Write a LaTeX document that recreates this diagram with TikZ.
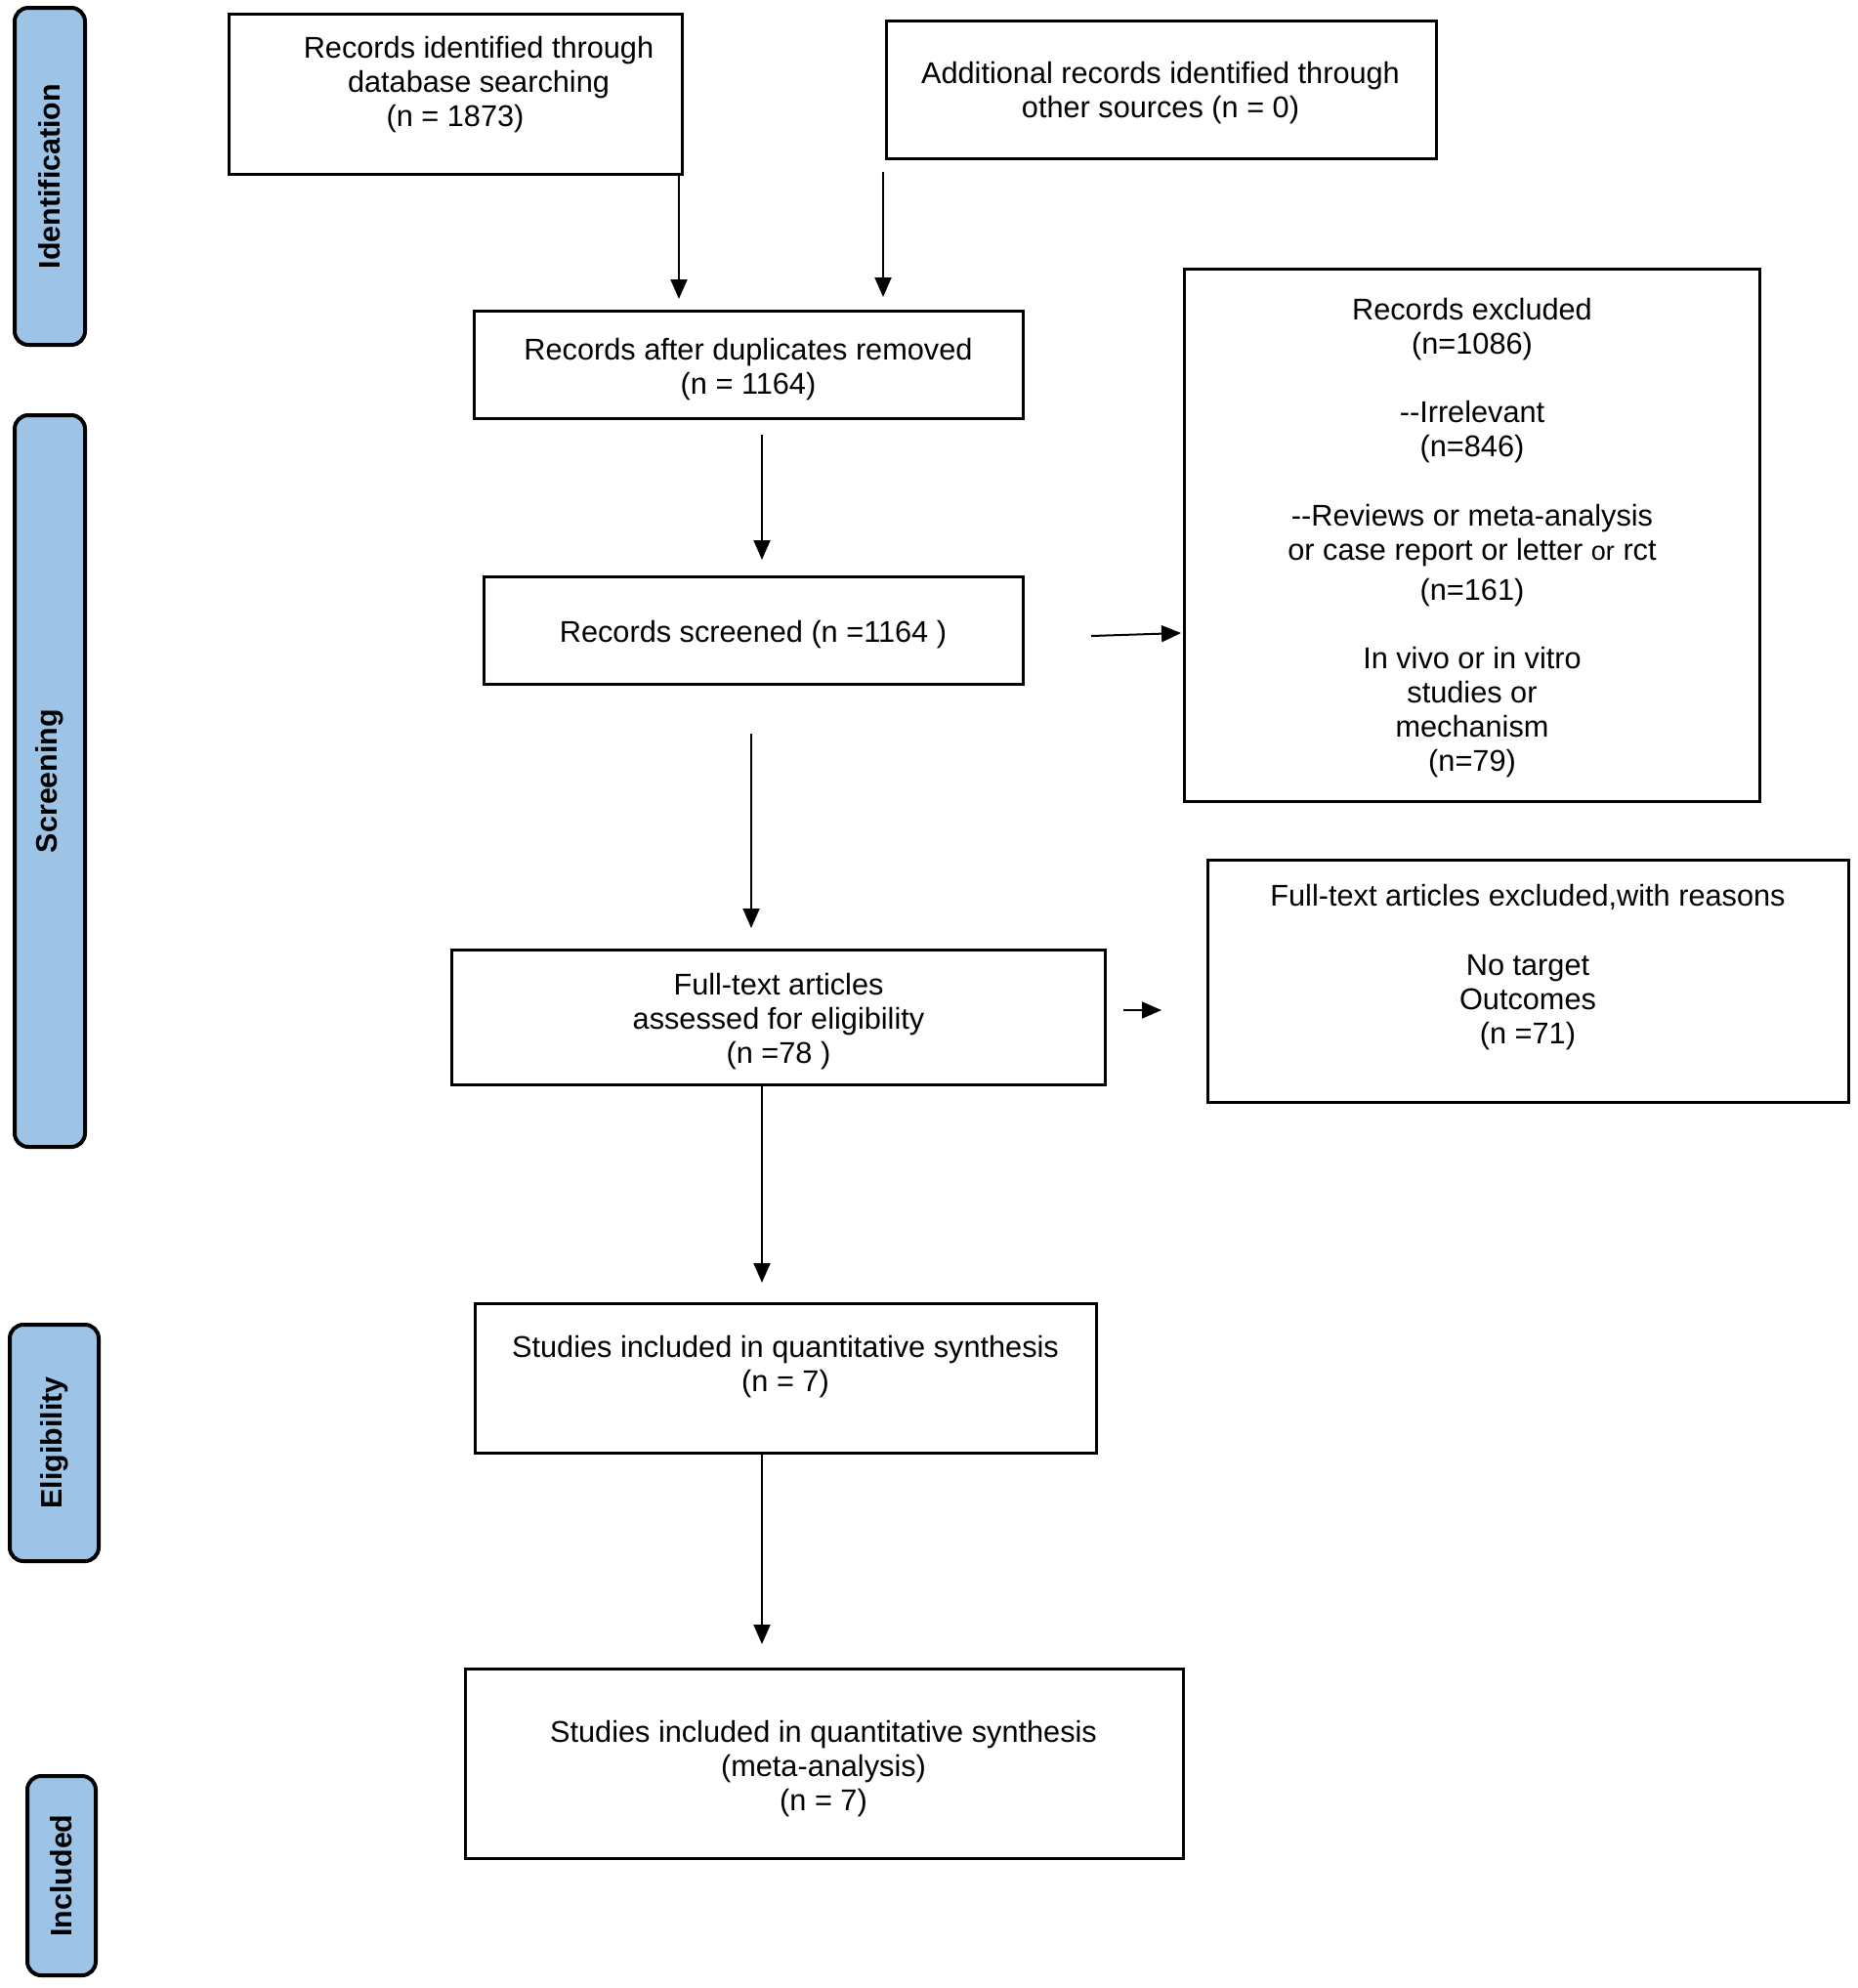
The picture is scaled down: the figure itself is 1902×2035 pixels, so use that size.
\documentclass[tikz,border=0pt]{standalone}
\usepackage{fontspec}
\setmainfont{Liberation Sans}
\usetikzlibrary{arrows.meta,fit}
\definecolor{sideblue}{RGB}{157,195,230}
\begin{document}
\begin{tikzpicture}[x=1pt,y=-1pt,
  box/.style={draw=black, line width=3pt, inner sep=0pt},
  side/.style={draw=black, fill=sideblue, line width=4pt, rounded corners=14pt, inner sep=0pt},
  sidelabel/.style={rotate=90, font=\fontsize{30.4}{36}\selectfont\bfseries, inner sep=0pt},
  txt/.style={align=center, anchor=north, inner sep=0pt, font=\fontsize{30.7}{35}\selectfont},
  arr/.style={line width=2pt, -{Triangle[width=17pt,length=20pt]}}
]
\useasboundingbox (0,0) rectangle (1902,2035);

% sidebars
\node[side, fit={(15,8) (87,353)}] (sid) {};
\node[sidelabel] (lid) at (sid.center) {Identification};
\node[side, fit={(15,425) (87,1174)}] (sscr) {};
\node[sidelabel] (lscr) at (sscr.center) {Screening};
\node[side, fit={(10,1356) (101,1598)}] (selig) {};
\node[sidelabel] (lelig) at (selig.center) {Eligibility};
\node[side, fit={(28,1818) (98,2022)}] (sinc) {};
\node[sidelabel] (linc) at (sinc.center) {Included};

% boxes
\node[box, fit={(234,14) (698,178)}] (b1) {};
\node[txt] (t1) at (490,35) {\strut Records identified through\\database searching\\(n = 1873)\rule{48pt}{0pt}};

\node[box, fit={(907,21) (1470,162)}] (b2) {};
\node[txt] (t2) at (1188,61) {\strut Additional records identified through\\other sources (n = 0)};

\node[box, fit={(485,318) (1047,428)}] (b3) {};
\node[txt] (t3) at (766,344) {\strut Records after duplicates removed\\(n = 1164)};

\node[box, fit={(495,590) (1047,700)}] (b4) {};
\node[txt] (t4) at (771,633) {\strut Records screened (n =1164 )};

\node[box, fit={(1212,275) (1801,820)}] (b5) {};
\node[txt] (t5) at (1507,303) {\strut Records excluded\\(n=1086)\\[35pt]
-\kern0pt-Irrelevant\\(n=846)\\[36pt]
-\kern0pt-Reviews or meta-analysis\\or case report or letter {\fontsize{27}{35}\selectfont or} rct\\[6pt]
(n=161)\\[35pt]
In vivo or in vitro\\studies or\\mechanism\\(n=79)};

\node[box, fit={(462,972) (1131,1110)}] (b6) {};
\node[txt] (t6) at (797,994) {\strut Full-text articles\\assessed for eligibility\\(n =78 )};

\node[box, fit={(1236,880) (1892,1128)}] (b7) {};
\node[txt] (t7) at (1564,903) {\strut Full-text articles excluded,with reasons\\[36pt]
No target\\Outcomes\\(n =71)};

\node[box, fit={(486,1334) (1122,1487)}] (b8) {};
\node[txt] (t8) at (804,1365) {\strut Studies included in quantitative synthesis\\(n = 7)};

\node[box, fit={(476,1708) (1211,1902)}] (b9) {};
\node[txt] (t9) at (843,1759) {\strut Studies included in quantitative synthesis\\(meta-analysis)\\(n = 7)};

% arrow end points
\coordinate (a1s) at (695,178);
\coordinate (a1e) at (695,306);
\coordinate (a2s) at (904,176);
\coordinate (a2e) at (904,304);
\coordinate (a3s) at (780,445);
\coordinate (a3e) at (780,573);
\coordinate (a4s) at (1117,651);
\coordinate (a4e) at (1209,648);
\coordinate (a5s) at (769,751);
\coordinate (a5e) at (769,950);
\coordinate (a6s) at (1150,1034);
\coordinate (a6e) at (1189,1034);
\coordinate (a7s) at (780,1110);
\coordinate (a7e) at (780,1313);
\coordinate (a8s) at (780,1487);
\coordinate (a8e) at (780,1683);

\draw[arr] (a1s) -- (a1e);
\draw[arr] (a2s) -- (a2e);
\draw[arr] (a3s) -- (a3e);
\draw[arr] (a4s) -- (a4e);
\draw[arr] (a5s) -- (a5e);
\draw[arr] (a6s) -- (a6e);
\draw[arr] (a7s) -- (a7e);
\draw[arr] (a8s) -- (a8e);
\end{tikzpicture}
\end{document}
